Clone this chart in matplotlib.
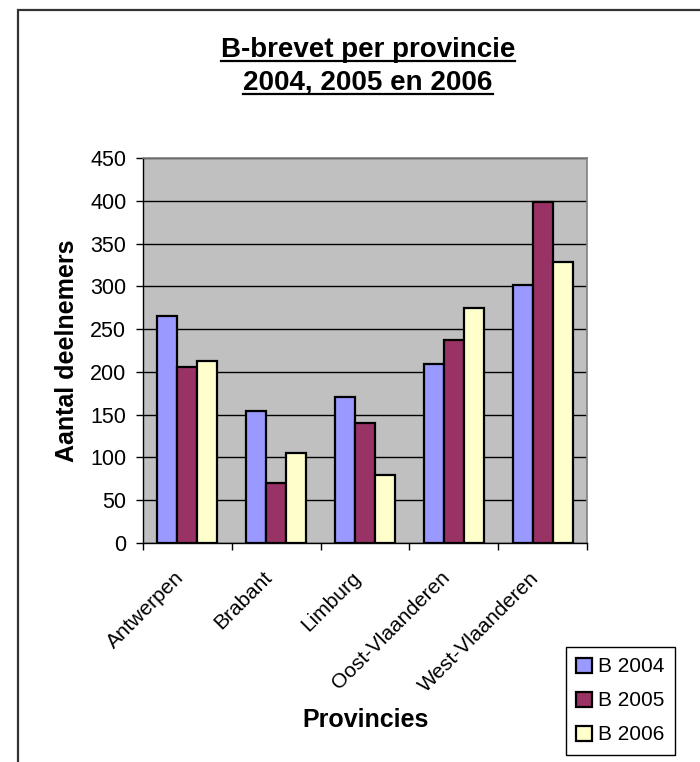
import matplotlib
matplotlib.use("Agg")
import matplotlib.pyplot as plt
from matplotlib.lines import Line2D
from matplotlib.patches import Rectangle
import numpy as np

plt.rcParams['font.family'] = ['Liberation Sans', 'DejaVu Sans']

provinces = ["Antwerpen", "Brabant", "Limburg", "Oost-Vlaanderen", "West-Vlaanderen"]
b2004 = [265, 154, 171, 209, 301]
b2005 = [206, 70, 140, 237, 398]
b2006 = [213, 105, 80, 275, 328]
series_names = ["B 2004", "B 2005", "B 2006"]
series_colors = ["#9999FF", "#993366", "#FFFFCC"]

W, H = 700, 762
fig = plt.figure(figsize=(7, 7.62), dpi=100)

# outer chart border (only top and left visible in the crop)
fig.add_artist(Rectangle((18 / W, -0.05), 1.1, 1 - 10 / H + 0.05, transform=fig.transFigure,
                         fill=False, edgecolor="#333333", linewidth=1.6))

ax = fig.add_axes([143 / W, 1 - 543 / H, (587 - 143) / W, (543 - 158) / H])
ax.set_facecolor("#C0C0C0")

x = np.arange(len(provinces))
bw = 0.225
for i, (vals, name, col) in enumerate(zip([b2004, b2005, b2006], series_names, series_colors)):
    ax.bar(x + (i - 1) * bw, vals, bw, color=col, edgecolor="black", linewidth=1.6,
           label=name, zorder=3)

ax.set_xlim(-0.5, 4.5)
ax.set_ylim(0, 450)
ax.set_yticks(range(0, 451, 50))
ax.yaxis.grid(True, color="black", linewidth=1, zorder=1)
ax.set_axisbelow(True)

ax.set_xticks(x)
ax.set_xticklabels(provinces, rotation=45, ha="right", va="top", fontsize=15)
ax.set_xticks(np.arange(-0.5, 5, 1), minor=True)
ax.tick_params(axis="x", which="major", length=0, pad=18)
ax.tick_params(axis="x", which="minor", length=5, width=1, direction="out")
ax.tick_params(axis="y", length=5, width=1, direction="out", labelsize=15.5, pad=7)

for s in ["top", "right"]:
    ax.spines[s].set_color("#808080")
    ax.spines[s].set_linewidth(1.2)
for s in ["left", "bottom"]:
    ax.spines[s].set_color("black")
    ax.spines[s].set_linewidth(1)

ax.set_ylabel("Aantal deelnemers", fontsize=18, fontweight="bold", labelpad=8)
fig.text(366 / W, 1 - 720 / H, "Provincies", fontsize=18, fontweight="bold",
         ha="center", va="center")

# title, underlined by hand
t1 = fig.text(368 / W, 1 - 57 / H, "B-brevet per provincie", fontsize=20,
              fontweight="bold", ha="center", va="baseline")
t2 = fig.text(368 / W, 1 - 90 / H, "2004, 2005 en 2006", fontsize=20,
              fontweight="bold", ha="center", va="baseline")
fig.canvas.draw()
r = fig.canvas.get_renderer()
for t, base in [(t1, 57), (t2, 90)]:
    bb = t.get_window_extent(r)
    yy = 1 - (base + 4) / H
    fig.add_artist(Line2D([bb.x0 / W, bb.x1 / W], [yy, yy], transform=fig.transFigure,
                          color="black", linewidth=1.6))

leg = fig.legend(loc="upper left", bbox_to_anchor=(566 / W, 1 - 647 / H), fontsize=15,
                 frameon=True, fancybox=False, edgecolor="black", framealpha=1,
                 handlelength=0.75, handleheight=0.75, handletextpad=0.3,
                 borderpad=0.5, labelspacing=0.72, borderaxespad=0)
leg.get_frame().set_linewidth(1)

plt.savefig("out.png", dpi=100)
